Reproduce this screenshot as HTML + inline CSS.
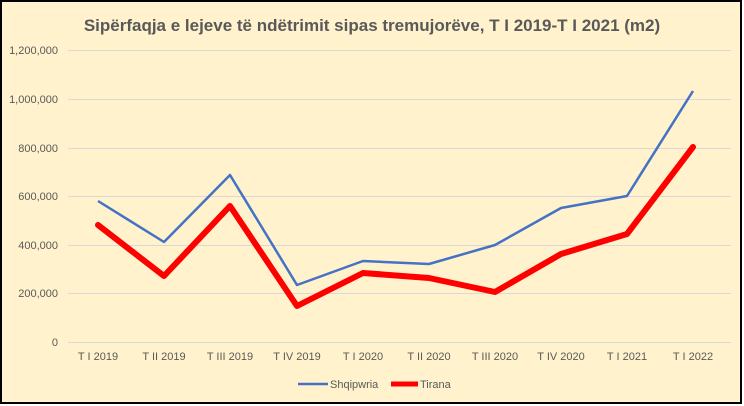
<!DOCTYPE html>
<html><head><meta charset="utf-8"><style>
body{margin:0;background:#fff;}
svg{display:block;font-family:"Liberation Sans",sans-serif;}
</style></head><body>
<svg width="744" height="406" viewBox="0 0 744 406">
<rect x="1" y="1" width="740" height="402" fill="#FFF2CC" stroke="#000" stroke-width="2"/>
<text x="372" y="31" text-anchor="middle" font-size="17" font-weight="bold" fill="#595959">Sipërfaqja e lejeve të ndëtrimit sipas tremujorëve, T I 2019-T I 2021 (m2)</text>
<g stroke="#d9d9d9" stroke-width="1">
<line x1="68" x2="731" y1="50.5" y2="50.5"/><line x1="68" x2="731" y1="99.5" y2="99.5"/>
<line x1="68" x2="731" y1="148.5" y2="148.5"/><line x1="68" x2="731" y1="196.5" y2="196.5"/>
<line x1="68" x2="731" y1="245.5" y2="245.5"/><line x1="68" x2="731" y1="293.5" y2="293.5"/>
<line x1="68" x2="731" y1="342.5" y2="342.5"/>
</g>
<g font-size="11" fill="#595959" text-anchor="end">
<text x="58" y="54">1,200,000</text><text x="58" y="103">1,000,000</text>
<text x="58" y="152">800,000</text><text x="58" y="200">600,000</text>
<text x="58" y="249">400,000</text><text x="58" y="297">200,000</text>
<text x="58" y="346">0</text>
</g>
<g font-size="11" fill="#595959" text-anchor="middle">
<text x="98" y="360">T I 2019</text><text x="164" y="360">T II 2019</text>
<text x="230" y="360">T III 2019</text><text x="297" y="360">T IV 2019</text>
<text x="363" y="360">T I 2020</text><text x="429" y="360">T II 2020</text>
<text x="495" y="360">T III 2020</text><text x="561" y="360">T IV 2020</text>
<text x="627" y="360">T I 2021</text><text x="693" y="360">T I 2022</text>
</g>
<polyline fill="none" stroke="#4472C4" stroke-width="2.5" stroke-linejoin="round" points="98,201 164,242 230,175 297,285 363,261 429,264 495,245 561,208 627,196 693,91"/>
<polyline fill="none" stroke="#FF0000" stroke-width="6" stroke-linejoin="round" stroke-linecap="round" points="98,225 164,276 230,206 297,306 363,273 429,278 495,292 561,254 627,234 693,147"/>
<line x1="298" x2="328" y1="384" y2="384" stroke="#4472C4" stroke-width="2.5"/>
<text x="330" y="388" font-size="11" fill="#595959">Shqipwria</text>
<line x1="391" x2="418" y1="384" y2="384" stroke="#FF0000" stroke-width="5"/>
<text x="420" y="388" font-size="11" fill="#595959">Tirana</text>
</svg>
</body></html>
